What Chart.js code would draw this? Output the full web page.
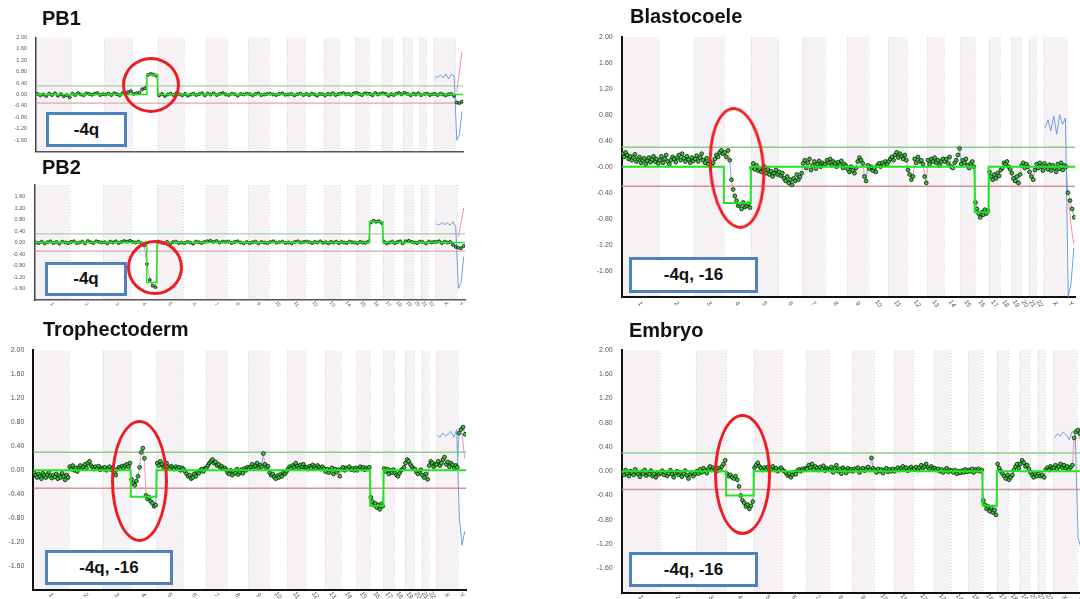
<!DOCTYPE html>
<html><head><meta charset="utf-8">
<script src="https://cdn.jsdelivr.net/npm/chart.js@4.4.1/dist/chart.umd.min.js"></script>
<style>
html,body{margin:0;padding:0;background:#fff;overflow:hidden;width:1080px;height:599px;}
body{position:relative;font-family:"Liberation Sans",Arial,sans-serif;}
canvas{position:absolute;}
.title{position:absolute;font-weight:bold;font-size:20px;line-height:20px;color:#111;white-space:nowrap;z-index:5;}
.ell{position:absolute;border:3px solid #ee1d23;border-radius:50%;box-sizing:border-box;z-index:6;}
.box{position:absolute;border:3px solid #4f81bd;background:#fff;box-sizing:border-box;display:flex;align-items:center;justify-content:center;font-weight:bold;font-size:17px;color:#111;z-index:6;white-space:nowrap;}
</style></head><body>
<canvas id="cPB1"></canvas>
<canvas id="cPB2"></canvas>
<canvas id="cBlast"></canvas>
<canvas id="cTroph"></canvas>
<canvas id="cEmb"></canvas>

<div class="title" style="left:42px;top:8px">PB1</div>
<div class="title" style="left:42px;top:157px">PB2</div>
<div class="title" style="left:630px;top:6px">Blastocoele</div>
<div class="title" style="left:43px;top:319px">Trophectoderm</div>
<div class="title" style="left:629px;top:320px">Embryo</div>

<div class="ell" style="left:122px;top:57px;width:58px;height:56px"></div>
<div class="ell" style="left:127px;top:240px;width:56px;height:55px"></div>
<div class="ell" style="left:709px;top:107px;width:56px;height:122px;transform:rotate(-4deg)"></div>
<div class="ell" style="left:111px;top:420px;width:57px;height:122px"></div>
<div class="ell" style="left:714px;top:414px;width:57px;height:121px"></div>

<div class="box" style="left:46px;top:112px;width:81px;height:35px">-4q</div>
<div class="box" style="left:45px;top:262px;width:82px;height:34px">-4q</div>
<div class="box" style="left:629px;top:257px;width:129px;height:36px">-4q, -16</div>
<div class="box" style="left:45px;top:550px;width:128px;height:35px">-4q, -16</div>
<div class="box" style="left:629px;top:552px;width:129px;height:35px">-4q, -16</div>

<script>
// ---------- DATA ----------
const chromosomes = ['1','2','3','4','5','6','7','8','9','10','11','12','13','14','15','16','17','18','19','20','21','22','X','Y'];
const chromSize = [112,106,89,81,83,72,67,67,65,58,58,60,50,50,43,42,34,33,30,23,22,23,70,25];
const yTickValues = [2,1.6,1.2,0.8,0.4,0,-0.4,-0.8,-1.2,-1.6];
const yTickLabels = ['2.00','1.60','1.20','0.80','0.40','0.00','-0.40','-0.80','-1.20','-1.60'];
const yTickLabelsBlast = ['2.00','1.60','1.20','0.80','0.40','-0.00','-0.40','-0.80','-1.20','-1.60'];
const yTickLabelsPB2 = ['','1.60','1.20','0.80','0.40','0.00','-0.40','-0.80','-1.20','-1.60'];
const thresholds = [0.3, -0.3];

const pb1Ratio = [
[0.02,-0.03,0.00,-0.05,0.03,-0.02,0.04,-0.04,0.01,-0.06,-0.02,-0.10],
[0.03,-0.02,0.05,0.00,-0.03,0.04,0.02,-0.01,0.03,0.05,-0.02,0.01],
[0.00,0.03,-0.02,0.04,0.01,-0.03,0.05,0.02,0.08,0.12],
[0.02,0.04,0.06,0.18,0.22,0.68,0.72,0.70,0.66],
[-0.03,0.02,-0.05,0.00,0.03,-0.02,0.04,0.01,-0.03],
[0.02,-0.04,0.00,0.03,-0.02,0.01,0.04,-0.03],
[0.03,0.00,0.04,-0.02,0.02,0.05,0.00],
[-0.02,0.03,0.01,-0.04,0.02,0.00,0.03],
[0.01,-0.03,0.02,0.04,-0.02,0.00,0.02],
[0.03,0.00,-0.02,0.02,0.04,-0.01],
[0.00,0.02,-0.03,0.01,0.03,-0.02],
[0.02,-0.02,0.03,0.00,-0.04,0.02,0.01],
[-0.03,0.02,0.00,0.04,-0.02,0.01],
[0.03,0.05,0.00,0.02,-0.02,0.04],
[0.06,0.02,-0.02,0.04,0.03],
[0.02,-0.03,0.05,0.00,0.03],
[0.04,0.02,-0.04,0.01],
[-0.02,0.03,0.05,0.00],
[0.06,0.02,-0.03],
[0.03,0.00,0.04],
[-0.02,0.02],
[0.03,-0.02,0.01],
[0.02,-0.02,0.03,0.00,-0.03,0.01,0.02,-0.05],
[-0.28,-0.30,-0.25]
];
const pb1Segments = [['4',0.58,1,0.69]];
const pb1XBlue = [0.62,0.60,0.68,0.58,0.72,0.55,0.70,0.66];
const pb1YBlue = [-1.60,-1.40,-0.60];
const pb1YPink = [0.10,0.80,1.50];

const pb2Ratio = [
[0.00,-0.02,0.03,-0.03,0.01,0.04,-0.02,0.02,-0.04,0.03,0.00,-0.02],
[0.02,0.04,-0.02,0.00,0.03,-0.03,0.05,0.01,-0.02,0.04,0.02,0.00],
[0.01,-0.03,0.03,0.00,0.04,-0.02,0.02,0.05,0.03,0.06],
[0.02,0.00,0.03,-0.02,-0.10,-0.75,-1.30,-1.50,-1.55],
[0.03,0.00,-0.02,0.02,-0.04,0.01,0.03,-0.02,0.00],
[-0.02,0.02,0.00,-0.04,0.03,0.01,-0.02,0.02],
[0.04,0.06,0.02,0.05,0.00,0.03,0.02],
[0.03,-0.02,0.02,0.04,0.00,-0.03,0.02],
[-0.02,0.01,0.03,-0.03,0.02,0.00,-0.02],
[0.02,0.04,-0.01,0.01,0.03,-0.02],
[0.00,-0.03,0.02,0.04,0.00,0.02],
[0.03,0.01,-0.02,0.02,0.00,0.04,-0.01],
[0.01,-0.03,0.02,0.00,0.03,-0.02],
[0.02,0.00,-0.02,0.03,0.01,0.00],
[-0.02,0.02,0.00,-0.01,0.03],
[0.70,0.76,0.72,0.74,0.69],
[0.02,-0.03,0.00,0.03],
[-0.02,0.02,0.04,-0.03],
[0.04,0.06,0.02],
[0.00,-0.02,0.03],
[0.02,-0.03],
[0.03,0.00,0.02],
[0.02,0.04,-0.02,0.03,0.00,0.02,-0.08,-0.15],
[-0.18,-0.20,-0.12]
];
const pb2Segments = [['4',0.6,1,-1.39],['16',0,1,0.72]];
const pb2XBlue = [0.65,0.60,0.70,0.62,0.68,0.60,0.72,0.55];
const pb2YBlue = [-1.60,-1.40,-0.50];
const pb2YPink = [0.20,0.70,1.20];

const blastRatio = [
[0.20,0.15,0.22,0.18,0.12,0.16,0.10,0.14,0.19,0.08,0.12,0.15,0.06,0.10,0.13,0.04,0.09,0.14,0.07,0.11,0.16,0.08,0.12,0.05],
[0.10,0.16,0.06,0.12,0.18,0.08,0.04,0.10,0.15,0.12,0.07,0.14,0.18,0.10,0.20,0.13,0.08,0.16,0.11,0.06,0.14,0.09],
[0.12,0.17,0.08,0.14,0.20,0.10,0.06,0.13,0.04,0.08,0.02,0.06,0.12,0.18,0.15,0.22,0.25,0.20],
[0.22,0.15,0.25,0.10,-0.20,-0.35,-0.45,-0.52,-0.60,-0.58,-0.65,-0.55,-0.62,-0.60,-0.57,-0.63],
[-0.02,0.05,-0.04,0.02,-0.06,-0.03,-0.08,-0.05,0.00,-0.10,-0.04,-0.12,-0.07,-0.15,-0.10,-0.05,-0.12],
[-0.08,-0.14,-0.10,-0.18,-0.22,-0.15,-0.25,-0.20,-0.28,-0.18,-0.22,-0.12,-0.20,-0.16,-0.10],
[0.05,0.10,-0.02,0.06,0.12,-0.05,0.02,0.08,-0.03,0.04,0.09,0.00,0.06,0.03],
[0.04,0.10,0.06,0.12,0.02,0.08,0.05,0.00,0.07,0.03,0.09,-0.02,0.04,0.01],
[-0.04,-0.08,0.00,-0.06,-0.10,-0.02,0.08,0.14,0.10,0.05,-0.15,-0.22,0.02],
[-0.03,0.00,-0.06,-0.02,-0.08,0.02,0.05,0.00,0.06,0.03,0.08,0.04],
[0.08,0.12,0.15,0.10,0.18,0.22,0.14,0.20,0.16,0.12,0.18,0.10],
[-0.05,-0.12,-0.20,-0.15,0.12,0.06,0.15,0.08,0.10,0.04,-0.15,-0.25],
[0.10,0.04,0.12,0.08,0.14,0.06,0.10,0.02,0.08,0.12],
[0.08,0.12,0.05,0.15,0.00,-0.02,0.06,0.10,0.18,0.28],
[0.04,0.10,0.06,0.12,0.02,-0.02,0.05,0.08,0.00],
[-0.55,-0.65,-0.72,-0.78,-0.70,-0.74,-0.66,-0.72,-0.68],
[-0.08,-0.15,-0.20,-0.12,-0.18,-0.10,-0.14],
[-0.05,-0.02,0.06,0.04,0.08,0.00,-0.04],
[-0.10,-0.18,-0.22,-0.15,-0.25,-0.12],
[0.02,0.06,-0.02,0.04,0.00],
[-0.08,-0.15,-0.20,-0.05],
[0.04,-0.02,0.06,0.00,-0.06],
[0.05,0.00,-0.04,0.03,-0.06,0.02,-0.02,-0.08,0.04,-0.03,0.06,-0.05,0.02,0.00],
[-0.40,-0.52,-0.65,-0.78]
];
const blastSegments = [['4',0,1,-0.56],['16',0,1,-0.70]];
const blastXBlue = [0.60,0.72,0.55,0.78,0.50,0.80,0.65,0.75];
const blastYBlue = [-2.00,-1.80,-1.25];
const blastYPink = [-0.50,-0.90,-1.20];

const trophRatio = [
[-0.04,-0.08,-0.12,-0.06,-0.10,-0.14,-0.05,-0.09,-0.12,-0.07,-0.03,-0.10,-0.13,-0.08,-0.11,-0.06,-0.14,-0.09,-0.12,-0.05,-0.10,-0.16,-0.08,-0.12],
[0.06,0.02,0.08,0.00,0.04,-0.02,0.05,0.08,0.03,0.06,0.10,0.04,0.12,0.15,0.08,0.05,0.02,0.06,0.03,0.07,0.01,0.04],
[0.02,0.05,0.00,0.03,0.06,0.01,0.04,-0.04,-0.08,0.02,0.05,0.03,0.07,0.04,0.08,0.10,0.06,0.12],
[-0.15,-0.22,-0.25,-0.18,-0.10,0.05,0.30,0.37,0.20,-0.42,-0.48,-0.45,-0.52,-0.55,-0.60,-0.58],
[0.12,0.08,0.15,0.10,0.05,0.08,0.12,0.06,0.03,0.07,0.04,0.02,0.06,0.03,0.05,0.00,0.04],
[0.02,-0.02,-0.06,-0.10,-0.08,-0.14,-0.12,-0.06,-0.10,-0.03,-0.05,0.00,0.02,-0.02,0.03],
[0.04,0.08,0.12,0.15,0.18,0.12,0.14,0.08,0.10,0.05,0.07,0.03,0.04,0.01],
[-0.04,-0.06,0.00,-0.08,-0.02,-0.05,0.02,-0.07,-0.03,0.01,-0.05,0.03,0.00,0.05],
[0.03,0.06,0.10,0.05,0.08,0.12,0.04,0.09,0.06,0.28,0.10,0.04,0.07],
[-0.04,-0.08,-0.06,-0.11,-0.14,-0.09,-0.12,-0.07,-0.10,-0.04,-0.06,-0.02],
[0.02,0.06,0.03,0.08,0.05,0.12,0.07,0.04,0.09,0.06,0.10,0.05],
[0.05,0.02,0.07,0.04,0.09,0.06,0.03,0.08,0.05,0.02,0.06,0.03],
[-0.02,0.02,-0.04,0.00,0.04,-0.06,0.02,-0.03,0.01,-0.10],
[0.02,0.05,0.00,0.04,0.02,0.06,0.01,0.03,0.00,0.04],
[0.00,0.03,0.06,0.02,0.05,0.01,0.04,0.02,0.05],
[-0.45,-0.52,-0.58,-0.55,-0.62,-0.58,-0.65,-0.56,-0.60],
[0.03,-0.02,0.02,-0.06,0.00,-0.04,0.01],
[-0.04,-0.08,-0.10,-0.05,0.00,0.02,0.05],
[0.12,0.18,0.15,0.10,0.06,0.03],
[0.02,-0.03,-0.06,-0.02,0.01],
[-0.08,-0.12,-0.06,-0.15],
[0.08,0.15,0.12,0.06,0.10],
[0.10,0.15,0.08,0.12,0.18,0.22,0.10,0.14,0.06,0.12,0.09,0.04,0.08,0.05],
[0.62,0.68,0.72,0.60]
];
const trophSegments = [['4',0,1,-0.44],['16',0,1,-0.59]];
const trophXBlue = [0.58,0.55,0.62,0.58,0.60,0.65,0.55,0.68];
const trophYBlue = [-0.80,-1.25,-1.02];
const trophYPink = [0.65,0.60,0.20];

const embRatio = [
[-0.02,-0.06,0.02,-0.04,-0.08,0.00,-0.03,-0.06,0.03,-0.02,-0.05,-0.09,-0.01,-0.04,0.02,-0.07,-0.03,-0.05,0.01,-0.08,-0.04,-0.10,-0.02,-0.05],
[-0.03,0.01,-0.06,-0.02,-0.08,-0.04,0.02,-0.05,-0.10,-0.03,0.00,-0.06,-0.02,-0.09,-0.04,0.01,-0.07,-0.12,-0.05,-0.02,-0.08,-0.04],
[0.00,-0.04,0.03,-0.02,0.05,0.01,-0.03,0.04,0.08,0.02,0.06,0.03,0.00,0.05,0.02,0.08,0.12,0.18],
[-0.04,-0.08,-0.06,-0.10,-0.12,-0.08,-0.14,-0.25,-0.40,-0.48,-0.52,-0.58,-0.55,-0.62,-0.57,-0.50],
[0.06,0.10,0.14,0.08,0.05,0.02,0.06,0.03,0.07,0.01,0.04,0.08,0.02,0.05,0.00,0.03,0.06],
[0.02,0.00,-0.03,-0.07,-0.04,-0.10,-0.06,-0.02,-0.05,0.01,0.03,0.00,0.04,0.02,0.05],
[0.04,0.10,0.06,0.12,0.03,0.08,0.05,0.02,0.07,0.04,0.09,0.01,0.05,0.03],
[0.02,0.07,-0.02,0.05,0.10,0.00,0.04,-0.04,0.06,0.02,-0.03,0.05,0.01,0.03],
[0.00,0.04,0.02,0.06,-0.02,0.03,0.05,0.01,0.04,0.07,0.02,0.22,0.05],
[0.02,-0.02,0.04,0.00,0.03,-0.03,0.02,0.05,-0.01,0.03,0.00,0.04],
[0.00,0.03,0.06,0.02,0.05,0.08,0.03,0.06,0.01,0.04,0.07,0.03],
[0.04,0.07,0.02,0.06,0.10,0.05,0.08,0.12,0.06,0.04,0.08,0.05],
[0.05,0.02,0.04,0.00,0.03,-0.02,0.02,0.05,-0.01,0.02],
[0.01,-0.02,0.02,-0.04,0.00,-0.03,0.01,-0.02,0.03,-0.01],
[0.02,0.00,0.04,-0.02,0.03,0.01,0.04,0.00,0.02],
[-0.48,-0.55,-0.62,-0.58,-0.66,-0.60,-0.68,-0.64,-0.72],
[0.12,0.05,0.00,-0.04,-0.08,-0.12,-0.06],
[-0.14,-0.10,-0.06,0.02,0.08,0.12,0.05],
[0.12,0.18,0.14,0.08,0.10,0.04],
[-0.02,-0.06,-0.10,-0.04,-0.08],
[-0.04,-0.08,-0.06,-0.10],
[0.03,0.06,0.02,0.08,0.05],
[0.06,0.10,0.04,0.08,0.12,0.06,0.10,0.05,0.08,0.03,0.07,0.10,0.55,0.65],
[0.68,0.62,0.70,0.60]
];
const embSegments = [['4',0,1,-0.40],['16',0,1,-0.57]];
const embXBlue = [0.55,0.62,0.58,0.65,0.60,0.52,0.66,0.60];
const embYBlue = [-1.10,-1.27,-1.00];
const embYPink = [0.60,0.50,0.20];

// ---------- HELPERS ----------
const family = "'Liberation Sans', Arial, sans-serif";
function chromStart(i){ let s=0; for(let k=0;k<i;k++) s+=chromSize[k]; return s; }
const genomeEnd = chromSize.reduce((a,b)=>a+b,0);
const chromCenters = chromosomes.map((c,i)=>chromStart(i)+chromSize[i]/2);
function chromBins(ci, arr){ const s=chromStart(ci), w=chromSize[ci]; return arr.map((v,j)=>({x:s+(j+0.5)/arr.length*w, y:v})); }
function binPoints(vals){ let pts=[]; vals.forEach((arr,ci)=>{ pts=pts.concat(chromBins(ci,arr)); }); return pts; }
function stepPoints(segs){
  const pts=[];
  chromosomes.forEach((c,ci)=>{
    const s=chromStart(ci), w=chromSize[ci];
    const seg=segs.find(g=>g[0]===c);
    const pieces = seg ? [[0,seg[1],0],[seg[1],seg[2],seg[3]],[seg[2],1,0]] : [[0,1,0]];
    pieces.forEach(p=>{ if(p[1]>p[0]){ pts.push({x:s+p[0]*w,y:p[2]},{x:s+p[1]*w,y:p[2]}); } });
  });
  return pts;
}

const bandsPlugin = {
  id:'bands',
  beforeDraw(chart){
    const {ctx, chartArea:a, scales:{x}} = chart;
    ctx.save();
    ctx.beginPath(); ctx.rect(a.left,a.top,a.right-a.left,a.bottom-a.top); ctx.clip();
    chromosomes.forEach((c,i)=>{
      if(i%2!==0) return;
      const x0=x.getPixelForValue(chromStart(i)), x1=x.getPixelForValue(chromStart(i)+chromSize[i]);
      ctx.fillStyle='#f6f1f5'; ctx.fillRect(x0,a.top,x1-x0,a.bottom-a.top);
    });
    ctx.strokeStyle='#d6d6d6'; ctx.setLineDash([1,2]); ctx.lineWidth=1;
    chromosomes.forEach((c,i)=>{
      if(i===0) return;
      const xp=Math.round(x.getPixelForValue(chromStart(i)))+0.5;
      ctx.beginPath(); ctx.moveTo(xp,a.top); ctx.lineTo(xp,a.bottom); ctx.stroke();
    });
    ctx.restore();
  }
};

// chromosome names under the x axis, slanted like the original
const chromLabelPlugin = {
  id:'chromLabels',
  afterDraw(chart, args, o){
    if(!o || !o.show) return;
    const {ctx, chartArea:a, scales:{x}} = chart;
    ctx.save();
    ctx.font = o.size+'px '+family;
    ctx.fillStyle = '#555';
    ctx.textAlign = 'center';
    ctx.textBaseline = 'middle';
    chromCenters.forEach((v,i)=>{
      ctx.save();
      ctx.translate(x.getPixelForValue(v), a.bottom + o.offset);
      ctx.rotate(o.rot);
      ctx.fillText(chromosomes[i], 0, 0);
      ctx.restore();
    });
    ctx.restore();
  }
};

function makePanel(p){
  const el=document.getElementById(p.id);
  el.width=p.w; el.height=p.h;
  el.style.left=p.left+'px'; el.style.top=p.top+'px';
  el.style.width=p.w+'px'; el.style.height=p.h+'px';
  const pts=binPoints(p.ratio);
  const sexBlue=chromBins(22,p.xBlue).concat(chromBins(23,p.yBlue));
  const yPink=chromBins(23,p.yPink);
  const datasets=[
    {data:[{x:0,y:thresholds[0]},{x:genomeEnd,y:thresholds[0]}],showLine:true,borderColor:'#8ccc8c',borderWidth:p.big?1.5:1,pointRadius:0,order:7},
    {data:[{x:0,y:thresholds[1]},{x:genomeEnd,y:thresholds[1]}],showLine:true,borderColor:'#d39696',borderWidth:p.big?1.5:1,pointRadius:0,order:7},
    {data:pts,showLine:true,pointRadius:0,borderWidth:1,borderColor:'#ee98b6',
      segment:{borderColor:ctx=>ctx.p0DataIndex%3===1?'#7aa6e6':'#ee98b6'},order:6},
    {data:sexBlue,showLine:true,pointRadius:0,borderWidth:1,borderColor:'#6f9fe0',order:6},
    {data:yPink,showLine:true,pointRadius:0,borderWidth:1,borderColor:'#ee8fb0',order:6},
    {data:pts,showLine:false,pointRadius:p.big?1.9:1.5,pointBackgroundColor:'#2fcf2f',pointBorderColor:'#111',pointBorderWidth:0.8,order:3},
    {data:stepPoints(p.segs),showLine:true,pointRadius:0,borderWidth:p.big?2:1.5,borderColor:'#1fe61f',order:1}
  ];
  new Chart(el,{
    type:'scatter',
    data:{datasets},
    options:{
      responsive:false, animation:false, devicePixelRatio:1,
      layout:{padding:{top:p.padTop,right:p.padRight,left:0,bottom:0}},
      plugins:{legend:{display:false},tooltip:{enabled:false},
        chromLabels:{show:p.showX,size:p.xFont,offset:p.xOff,rot:0.95}},
      elements:{line:{tension:0}},
      scales:{
        x:{type:'linear',min:0,max:genomeEnd,
          grid:{display:false,drawTicks:false},
          border:{display:true,color:p.big?'#111':'#555',width:p.big?2:1.5},
          afterFit:(ax)=>{ax.height=p.xH;},
          ticks:{display:false}},
        y:{type:'linear',min:-2,max:2,
          grid:{display:false,drawTicks:false},
          border:{display:true,color:p.big?'#111':'#444',width:p.big?2:1.5},
          afterBuildTicks:(ax)=>{ax.ticks=yTickValues.map(v=>({value:v}));},
          afterFit:(ax)=>{ax.width=p.yW;},
          ticks:{padding:9,font:{size:p.yFont,family},color:'#555',callback:(v,i)=>p.yLabels[i]}}
      }
    },
    plugins:[bandsPlugin, chromLabelPlugin]
  });
}

makePanel({id:'cPB1',left:0,top:21,w:470,h:147,yW:36,padTop:16.3,padRight:6.7,xH:16.3,big:false,showX:false,xFont:5,xOff:4,yFont:5.5,
  ratio:pb1Ratio,segs:pb1Segments,xBlue:pb1XBlue,yBlue:pb1YBlue,yPink:pb1YPink,yLabels:yTickLabels});
makePanel({id:'cPB2',left:0,top:169,w:472,h:147,yW:34.3,padTop:16,padRight:7,xH:16,big:false,showX:true,xFont:5,xOff:4,yFont:5.5,
  ratio:pb2Ratio,segs:pb2Segments,xBlue:pb2XBlue,yBlue:pb2YBlue,yPink:pb2YPink,yLabels:yTickLabelsPB2});
makePanel({id:'cBlast',left:580,top:20,w:500,h:295,yW:41.7,padTop:16.7,padRight:4,xH:18.3,big:true,showX:true,xFont:6.5,xOff:7,yFont:7,
  ratio:blastRatio,segs:blastSegments,xBlue:blastXBlue,yBlue:blastYBlue,yPink:blastYPink,yLabels:yTickLabelsBlast});
makePanel({id:'cTroph',left:0,top:334,w:472,h:273,yW:33.3,padTop:16.3,padRight:6,xH:16.7,big:true,showX:true,xFont:6.5,xOff:5,yFont:7,
  ratio:trophRatio,segs:trophSegments,xBlue:trophXBlue,yBlue:trophYBlue,yPink:trophYPink,yLabels:yTickLabels});
makePanel({id:'cEmb',left:580,top:334,w:510,h:275,yW:41.7,padTop:16,padRight:4,xH:16.5,big:true,showX:true,xFont:6.5,xOff:5,yFont:7,
  ratio:embRatio,segs:embSegments,xBlue:embXBlue,yBlue:embYBlue,yPink:embYPink,yLabels:yTickLabels});
</script>
</body></html>
